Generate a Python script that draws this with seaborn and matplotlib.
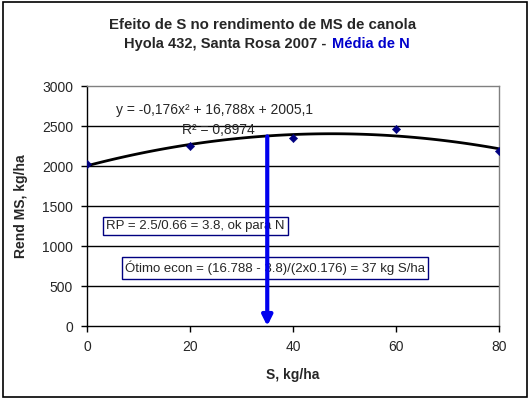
import matplotlib
matplotlib.use("Agg")
import matplotlib.pyplot as plt
from matplotlib.patches import Rectangle
import seaborn as sns
import pandas as pd

# dados
s_dose = [0, 20, 40, 60, 80]
rend_ms = [2022, 2245, 2350, 2457, 2182]
y_ticks = [0, 500, 1000, 1500, 2000, 2500, 3000]
x_ticks = [0, 20, 40, 60, 80]
otimo_x = 35
otimo_topo = 2370

df = pd.DataFrame({"S": s_dose, "Rend": rend_ms})

sns.set_style("white")
plt.rcParams["font.family"] = ["Liberation Sans", "DejaVu Sans"]

fig = plt.figure(figsize=(5.31, 4.03), dpi=100)
ax = fig.add_axes([87 / 531, 1 - 326 / 403, 412 / 531, 240 / 403])

# linha de tendencia (polinomial 2a ordem) e pontos
sns.regplot(data=df, x="S", y="Rend", order=2, ci=None, scatter=False,
            line_kws={"color": "black", "lw": 2}, ax=ax)
sns.scatterplot(data=df, x="S", y="Rend", marker="D", s=18, color="#000080",
                edgecolor="#000080", ax=ax, zorder=4)

ax.set_xlim(0, 80)
ax.set_ylim(0, 3000)
ax.set_xticks(x_ticks)
ax.set_yticks(y_ticks)
for t in y_ticks[1:-1]:
    ax.axhline(t, color="black", lw=1, zorder=1)

for side in ["top", "right"]:
    ax.spines[side].set_color("#808080")
for side in ["left", "bottom"]:
    ax.spines[side].set_color("black")
for sp in ax.spines.values():
    sp.set_linewidth(1)
ax.tick_params(axis="both", direction="out", length=4, width=1, color="black",
               labelsize=10, pad=6, bottom=True, left=True)

ax.set_xlabel("S, kg/ha", fontsize=10, fontweight="bold", labelpad=10)
ax.set_ylabel("Rend MS, kg/ha", fontsize=10, fontweight="bold", labelpad=10)

# equacao
ax.text(5.6, 2700, "y = -0,176x² + 16,788x + 2005,1", fontsize=10, va="center", ha="left")
ax.text(18.4, 2450, "R² = 0,8974", fontsize=10, va="center", ha="left")

# caixas de texto
box = dict(boxstyle="square,pad=0.25", fc="white", ec="#000080", lw=1)
ax.text(3.7, 1250, "RP = 2.5/0.66 = 3.8, ok para N", fontsize=9.5,
        va="center", ha="left", bbox=box, zorder=5)
ax.text(7.4, 725, "Ótimo econ = (16.788 - 3.8)/(2x0.176) = 37 kg S/ha", fontsize=9.5,
        va="center", ha="left", bbox=box, zorder=5)

# seta do otimo
ax.annotate("", xy=(otimo_x, 0), xytext=(otimo_x, otimo_topo),
            arrowprops=dict(arrowstyle="-|>,head_length=0.6,head_width=0.3",
                            color="#0000EE", lw=3, shrinkA=0, shrinkB=0),
            zorder=6)

# titulo
fig.text(263 / 531, 1 - 25 / 403, "Efeito de S no rendimento de MS de canola",
         ha="center", va="center", fontsize=10.8, fontweight="bold")
fig.text(331 / 531, 1 - 44 / 403, "Hyola 432, Santa Rosa 2007 - ",
         ha="right", va="center", fontsize=10.5, fontweight="bold")
fig.text(332 / 531, 1 - 44 / 403, "Média de N",
         ha="left", va="center", fontsize=10.5, fontweight="bold", color="#0000CC")

# moldura externa
fig.patches.append(Rectangle((3 / 531, 1 - 397 / 403), 524 / 531, 395 / 403,
                             transform=fig.transFigure, fill=False,
                             ec="black", lw=1.2))

fig.savefig("out.png", dpi=100)
